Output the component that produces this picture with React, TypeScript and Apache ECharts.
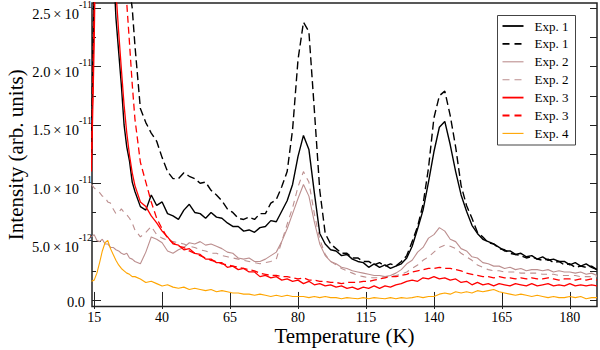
import { useEffect, useRef } from "react";
import * as echarts from "echarts";

// Temperature axis positions (axis units, K)
const TEMPERATURES = [
  14, 15, 16, 17, 18, 19, 20, 21, 22, 23, 24, 25, 26, 27, 28, 29, 30,
  32, 34, 36, 38, 40, 42, 44, 46, 48, 50,
  52, 54, 56, 58, 60, 62, 64, 66, 68, 70,
  72, 74, 76, 78, 80, 82, 84, 86, 88, 90,
  92, 94, 96, 98, 100, 102, 104, 106, 108, 110,
  112, 114, 116, 118, 120, 122, 124, 126, 128, 130,
  132, 134, 136, 138, 140, 142, 144, 146, 148, 150,
  152, 154, 156, 158, 160, 162, 164, 166, 168, 170,
  172, 174, 176, 178, 180, 182, 184, 186, 188, 190,
  192, 194, 196, 198, 200,
];

// Intensities in units of 1e-12 (arb. units)
const EXP1_SOLID = [
  12.0, 27, 45, 50, 48, 44, 40, 35, 29, 24.2, 21.3, 18.4, 15.0, 13.1, 11.9, 10.1, 9.3,
  8.0, 7.7, 9.0, 8.1, 8.4, 7.4, 7.2, 6.9, 7.7, 8.2,
  7.5, 7.4, 7.0, 7.5, 7.1, 7.0, 6.6, 6.3, 6.3, 5.9,
  6.0, 5.8, 6.2, 6.3, 6.8, 6.7, 7.6, 8.5, 9.9, 12.3,
  14.1, 12.9, 9.2, 5.7, 4.8, 4.3, 4.2, 3.8, 3.9, 3.5,
  3.3, 3.2, 2.8, 3.1, 2.8, 3.0, 2.7, 2.9, 3.1, 3.6,
  4.6, 6.1, 7.7, 10.1, 12.7, 14.8, 15.3, 13.3, 11.0, 9.0,
  7.6, 6.4, 5.7, 5.2, 5.0, 4.8, 4.5, 4.2, 4.2, 3.9,
  4.0, 3.7, 3.8, 3.5, 3.7, 3.4, 3.5, 3.3, 3.3, 3.0,
  3.2, 2.9, 3.1, 2.8, 2.6,
];
const EXP1_DASHED = [
  12.5, 28, 45, 52, 55, 54, 50, 46, 42, 38, 34, 31, 29, 28, 26.8, 25.0, 21.8,
  16.4, 15.2, 14.3, 13.6, 12.2, 11.0, 10.4, 10.4, 10.9, 10.6,
  10.4, 10.0, 10.1, 9.4, 9.0, 8.5, 7.8, 7.5, 7.0, 6.9,
  7.1, 6.9, 7.4, 7.4, 8.3, 8.6, 9.7, 11.0, 14.6, 20.6,
  23.8, 23.0, 16.3, 9.4, 5.7, 4.8, 4.4, 4.0, 4.0, 3.6,
  3.6, 3.3, 3.3, 3.0, 3.2, 2.9, 3.1, 2.9, 3.3, 3.8,
  5.0, 6.3, 8.2, 11.3, 15.6, 17.5, 17.9, 15.8, 13.1, 9.8,
  8.1, 7.0, 5.8, 5.4, 4.9, 4.8, 4.4, 4.3, 4.0, 3.9,
  3.8, 3.6, 3.7, 3.5, 3.4, 3.5, 3.2, 3.3, 3.0, 3.1,
  2.8, 2.9, 2.8, 2.9, 2.6,
];
const EXP2_SOLID = [
  5.4, 5.6, 5.1, 5.0, 5.2, 4.8, 4.8, 4.5, 4.5, 4.3, 4.2, 4.0, 3.9, 4.0, 3.6, 3.5, 3.3,
  3.1, 4.1, 5.4, 5.2, 4.9, 4.2, 4.0, 4.3, 4.5, 4.9,
  4.8, 5.0, 4.7, 4.8, 4.6, 4.4, 4.1, 4.0, 3.6, 3.5,
  3.6, 3.3, 3.3, 3.5, 3.8, 4.1, 5.0, 6.1, 7.4, 8.7,
  9.9, 8.9, 6.7, 4.8, 3.8, 3.3, 3.1, 2.8, 2.7, 2.5,
  2.4, 2.3, 2.2, 2.1, 2.1, 2.0, 2.1, 2.3, 2.6, 3.1,
  3.4, 4.1, 4.5, 5.3, 5.6, 6.2, 5.9, 5.2, 5.0, 4.4,
  4.2, 3.7, 3.6, 3.2, 3.1, 2.9, 2.9, 2.7, 2.8, 2.6,
  2.7, 2.5, 2.6, 2.6, 2.5, 2.6, 2.4, 2.5, 2.4, 2.4,
  2.3, 2.4, 2.2, 2.3, 2.1,
];
const EXP2_DASHED = [
  9.9, 9.6, 9.4, 9.2, 8.9, 8.8, 8.4, 8.3, 7.8, 7.4, 7.5, 7.8, 7.5, 7.3, 7.0, 6.6, 6.0,
  5.4, 5.8, 6.3, 5.6, 5.3, 5.1, 5.0, 4.9, 4.8, 4.6,
  4.5, 4.3, 4.2, 4.0, 4.0, 3.8, 3.7, 3.6, 3.5, 3.4,
  3.3, 3.2, 3.1, 3.2, 3.3, 3.5, 5.0, 6.5, 7.9, 9.7,
  11.0, 10.1, 7.4, 5.2, 3.9, 3.3, 3.0, 2.7, 2.5, 2.3,
  2.1, 2.0, 1.9, 1.9, 1.9, 2.0, 2.0, 2.1, 2.2, 2.4,
  2.7, 3.0, 3.4, 3.7, 4.1, 4.5, 4.7, 4.6, 4.4, 4.0,
  3.7, 3.4, 3.0, 2.8, 2.6, 2.5, 2.5, 2.4, 2.4, 2.4,
  2.3, 2.3, 2.3, 2.3, 2.2, 2.2, 2.2, 2.1, 2.1, 2.1,
  2.1, 2.0, 2.0, 2.0, 2.0,
];
const EXP3_SOLID = [
  11.0, 22, 38, 45, 48, 46, 42, 37, 32, 26.5, 23.0, 19.8, 16.7, 14.3, 12.4, 10.9, 9.8,
  8.4, 8.0, 7.2, 6.6, 5.9, 5.4, 4.8, 4.7, 4.3, 4.4,
  4.0, 3.9, 3.5, 3.5, 3.2, 3.2, 2.8, 2.9, 2.6, 2.7,
  2.4, 2.4, 2.0, 2.1, 1.9, 2.0, 1.7, 1.8, 1.6, 1.7,
  1.4, 1.6, 1.3, 1.4, 1.2, 1.3, 1.1, 1.2, 1.0, 1.1,
  0.9, 1.1, 1.0, 1.2, 1.0, 1.2, 1.1, 1.3, 1.4, 1.6,
  1.7, 1.6, 1.9, 1.8, 2.0, 1.8, 1.9, 1.7, 1.8, 1.5,
  1.6, 1.3, 1.5, 1.3, 1.4, 1.2, 1.4, 1.3, 1.2, 1.4,
  1.3, 1.2, 1.4, 1.2, 1.3, 1.4, 1.2, 1.3, 1.2, 1.4,
  1.2, 1.3, 1.2, 1.3, 1.2,
];
const EXP3_DASHED = [
  12, 25, 40, 48, 52, 53, 51, 48, 44, 40, 36, 32, 28, 25.4, 22, 18.5, 15.5,
  11.8, 10.1, 8.4, 7.0, 6.1, 5.3, 4.9, 4.6, 4.5, 4.2,
  4.0, 3.8, 3.6, 3.4, 3.3, 3.1, 3.0, 2.9, 2.8, 2.7,
  2.6, 2.5, 2.3, 2.2, 2.1, 2.1, 2.0, 2.0, 1.9, 1.8,
  1.9, 1.7, 1.7, 1.6, 1.6, 1.5, 1.5, 1.4, 1.5, 1.5,
  1.5, 1.6, 1.6, 1.7, 1.8, 1.9, 2.0, 2.0, 2.1, 2.2,
  2.4, 2.5, 2.6, 2.7, 2.7, 2.8, 2.7, 2.7, 2.6, 2.5,
  2.3, 2.2, 2.1, 2.0, 2.0, 1.9, 2.0, 1.9, 1.9, 1.8,
  1.9, 1.8, 1.9, 1.8, 1.8, 1.9, 1.8, 1.7, 1.8, 1.8,
  1.7, 1.8, 1.7, 1.8, 1.7,
];
const EXP4 = [
  1.6, 1.7, 2.3, 3.2, 4.2, 4.9, 5.1, 4.4, 3.9, 3.4, 3.0, 2.7, 2.5, 2.3, 2.2, 2.0, 2.0,
  1.8, 1.5, 1.6, 1.4, 1.2, 1.3, 1.1, 1.0, 1.1, 0.9,
  1.0, 0.9, 0.8, 0.9, 0.7, 0.8, 0.7, 0.6, 0.6, 0.5,
  0.5, 0.4, 0.5, 0.4, 0.3, 0.4, 0.3, 0.4, 0.3, 0.3,
  0.3, 0.2, 0.3, 0.2, 0.3, 0.2, 0.2, 0.1, 0.2, 0.15,
  0.1, 0.2, 0.1, 0.2, 0.15, 0.1, 0.2, 0.1, 0.2, 0.15,
  0.2, 0.3, 0.2, 0.3, 0.3, 0.5, 0.6, 0.5, 0.7, 0.6,
  0.7, 0.6, 0.8, 0.7, 0.8, 0.9, 0.7, 0.6, 0.5, 0.4,
  0.5, 0.4, 0.3, 0.4, 0.3, 0.2, 0.3, 0.2, 0.2, 0.3,
  0.2, 0.3, 0.1, 0.2, 0.2,
];

const SERIES_KEYS = ["exp1-solid", "exp1-dashed", "exp2-solid", "exp2-dashed", "exp3-solid", "exp3-dashed", "exp4"];
const LEGEND_LABELS = ["Exp. 1", "Exp. 1", "Exp. 2", "Exp. 2", "Exp. 3", "Exp. 3", "Exp. 4"];
const SERIES_VALUES = [EXP1_SOLID, EXP1_DASHED, EXP2_SOLID, EXP2_DASHED, EXP3_SOLID, EXP3_DASHED, EXP4];

const X_TICKS = [15, 40, 65, 90, 115, 140, 165, 190];
const X_TICK_LABELS = ["15", "40", "65", "80", "115", "140", "165", "180"];
const Y_MAJOR = [0, 5, 10, 15, 20, 25];
const Y_MINOR = [2.5, 7.5, 12.5, 17.5, 22.5];
const Y_ALL = [0, 2.5, 5, 7.5, 10, 12.5, 15, 17.5, 20, 22.5, 25];
const Y_MANTISSA = ["0.0", "5.0", "1.0", "1.5", "2.0", "2.5"];
const Y_EXPONENT = ["", "-12", "-11", "-11", "-11", "-11"];

const SERIF = "Liberation Serif, Times New Roman, serif";

const STYLES = [
  { color: "#000000", width: 1.4, legendWidth: 1.8, dash: null as number[] | null },
  { color: "#000000", width: 1.4, legendWidth: 1.8, dash: [8, 4] },
  { color: "#bc8f8f", width: 1.1, legendWidth: 1.1, dash: null },
  { color: "#bc8f8f", width: 1.1, legendWidth: 1.1, dash: [6, 5] },
  { color: "#ff0000", width: 1.3, legendWidth: 1.8, dash: null },
  { color: "#ff0000", width: 1.3, legendWidth: 1.8, dash: [7, 4] },
  { color: "#ffa500", width: 1.1, legendWidth: 1.1, dash: null },
];

export default function App() {
  const ref = useRef<HTMLDivElement>(null);
  useEffect(() => {
    if (!ref.current) return;
    const chart = echarts.init(ref.current, undefined, { renderer: "svg" });

    const series = SERIES_KEYS.map((key, i) => ({
      name: key,
      type: "line",
      xAxisIndex: 0,
      yAxisIndex: 0,
      data: TEMPERATURES.map((t, j) => [t, SERIES_VALUES[i][j]]),
      symbol: "none",
      showSymbol: false,
      clip: true,
      lineStyle: { color: STYLES[i].color, width: STYLES[i].width, type: (STYLES[i].dash || "solid") as any },
      itemStyle: { color: STYLES[i].color },
      emphasis: { disabled: true },
    }));

    const yLabel = (value: number) => {
      const idx = Y_MAJOR.findIndex((v) => Math.abs(v - value) < 1e-6);
      if (idx < 0) return "";
      if (!Y_EXPONENT[idx]) return "{zero|" + Y_MANTISSA[idx] + "}";
      return "{base|" + Y_MANTISSA[idx] + "}{times|×}{base|10}{sup|" + Y_EXPONENT[idx] + "}";
    };
    const xLabel = (value: number) => {
      const idx = X_TICKS.findIndex((v) => Math.abs(v - value) < 1e-6);
      return idx < 0 ? "" : X_TICK_LABELS[idx];
    };

    // Legend box drawn as graphic (duplicate labels, dashed samples)
    const LEG_X = 497.5;
    const LEG_Y = 15.5;
    const LEG_W = 78;
    const LEG_ROW = 17.9;
    const legendChildren: any[] = [
      {
        type: "rect",
        shape: { x: LEG_X, y: LEG_Y, width: LEG_W, height: 129.5 },
        style: { fill: "#ffffff", stroke: "#444444", lineWidth: 1 },
      },
    ];
    LEGEND_LABELS.forEach((label, i) => {
      const cy = LEG_Y + 10.5 + i * LEG_ROW;
      legendChildren.push({
        type: "line",
        shape: { x1: LEG_X + 5, y1: cy, x2: LEG_X + 26, y2: cy },
        style: {
          stroke: STYLES[i].color,
          lineWidth: STYLES[i].legendWidth,
          lineDash: STYLES[i].dash ? [7, 5] : null,
        },
      });
      legendChildren.push({
        type: "text",
        x: LEG_X + 37,
        y: cy,
        style: {
          text: label,
          fontFamily: SERIF,
          fontSize: 13,
          fill: "#000000",
          verticalAlign: "middle",
          align: "left",
        },
      });
    });

    const yCommon = {
      type: "value",
      min: -0.56,
      max: 25.45,
      splitLine: { show: false },
      axisLine: { show: false },
    };
    const xCommon = {
      type: "value",
      min: 14.2,
      max: 200,
      splitLine: { show: false },
      axisLine: { show: false },
    };

    chart.setOption({
      animation: false,
      backgroundColor: "#ffffff",
      textStyle: { fontFamily: SERIF },
      grid: {
        show: true,
        left: 92,
        right: 3,
        top: 3,
        bottom: 43.5,
        borderColor: "#222",
        borderWidth: 1.5,
        backgroundColor: "transparent",
        containLabel: false,
        outerBoundsMode: "none",
      },
      xAxis: [
        {
          ...xCommon,
          position: "bottom",
          name: "Temperature (K)",
          nameLocation: "middle",
          nameGap: 18.5,
          nameMoveOverlap: false,
          nameTextStyle: { fontFamily: SERIF, fontSize: 21, color: "#000" },
          axisTick: { show: true, inside: true, length: 8, customValues: X_TICKS, lineStyle: { color: "#222", width: 1 } },
          axisLabel: { show: true, margin: 4, customValues: X_TICKS, formatter: xLabel, fontFamily: SERIF, fontSize: 14, color: "#000" },
        },
        {
          ...xCommon,
          position: "top",
          axisTick: { show: true, inside: true, length: 9, customValues: X_TICKS, lineStyle: { color: "#222", width: 1 } },
          axisLabel: { show: false },
        },
      ],
      yAxis: [
        {
          ...yCommon,
          position: "left",
          name: "Intensity (arb. units)",
          nameLocation: "middle",
          nameGap: 66,
          nameMoveOverlap: false,
          nameTextStyle: { fontFamily: SERIF, fontSize: 21, color: "#000" },
          axisTick: { show: true, inside: true, length: 9, customValues: Y_MAJOR, lineStyle: { color: "#222", width: 1 } },
          axisLabel: {
            show: true,
            margin: 0,
            padding: [4, 0, 0, 0],
            customValues: Y_MAJOR,
            formatter: yLabel,
            rich: {
              base: { fontFamily: SERIF, fontSize: 14.5, color: "#000", verticalAlign: "bottom", lineHeight: 22 },
              times: { fontFamily: SERIF, fontSize: 14.5, color: "#000", verticalAlign: "bottom", lineHeight: 22, padding: [0, 3, 0, 3] },
              sup: { fontFamily: SERIF, fontSize: 10, color: "#000", verticalAlign: "top", lineHeight: 22 },
              zero: { fontFamily: SERIF, fontSize: 14.5, color: "#000", lineHeight: 17, padding: [0, 7, 0, 0] },
            },
          },
        },
        {
          ...yCommon,
          position: "left",
          axisTick: { show: true, inside: true, length: 4, customValues: Y_MINOR, lineStyle: { color: "#222", width: 1 } },
          axisLabel: { show: false },
        },
        {
          ...yCommon,
          position: "right",
          axisTick: { show: true, inside: true, length: 7, customValues: Y_ALL, lineStyle: { color: "#222", width: 1 } },
          axisLabel: { show: false },
        },
      ],
      graphic: [{ type: "group", children: legendChildren }],
      series,
    });
    return () => chart.dispose();
  }, []);
  return (
    <div
      ref={ref}
      style={{ position: "absolute", left: 0, top: 0, width: 600, height: 350, background: "#fff" }}
    />
  );
}
